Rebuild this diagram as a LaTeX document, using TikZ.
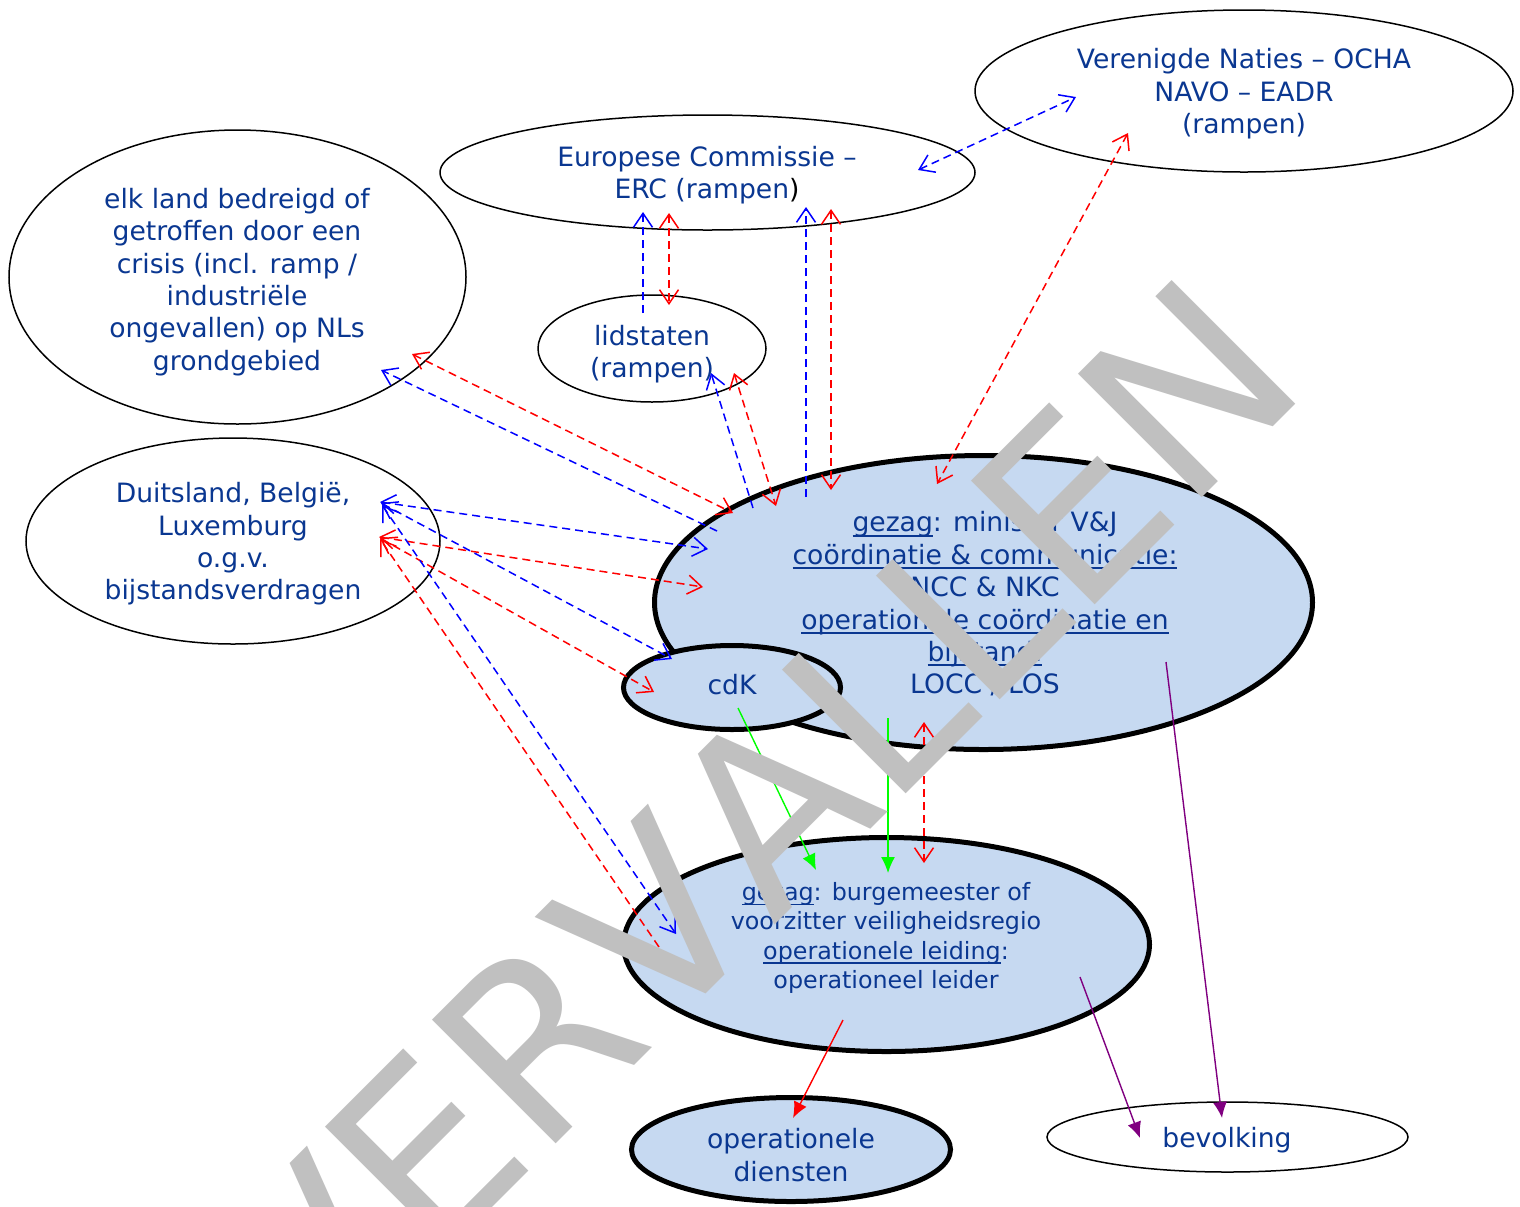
\documentclass[tikz,border=0pt]{standalone}
\usepackage{fontspec}
\setmainfont{DejaVu Sans}
\newfontfamily\wmfont{DejaVu Sans}[Kerning=Off]
\usetikzlibrary{shapes.geometric,arrows.meta}
\definecolor{txtblue}{RGB}{10,55,145}
\definecolor{fillblue}{RGB}{198,217,241}
\definecolor{wmgrey}{RGB}{192,192,192}
\definecolor{pur}{RGB}{128,0,128}
\definecolor{grn}{RGB}{0,255,0}
\newsavebox\ulbox
\newcommand\myul[1]{\sbox\ulbox{#1}\rlap{\rule[-2.4pt]{\wd\ulbox}{0.9pt}}\usebox\ulbox}
\begin{document}
\begin{tikzpicture}[x=0.5pt,y=-0.5pt,
  thinell/.style={ellipse,draw=black,line width=0.75pt,fill=white,inner sep=0pt},
  thickell/.style={ellipse,draw=black,line width=2.5pt,fill=fillblue,inner sep=0pt},
  txt/.style={text=txtblue,align=center,inner sep=0pt,font=\fontsize{13.3}{16.2}\selectfont},
  smalltxt/.style={txt,font=\fontsize{11.9}{14.65}\selectfont},
  bd/.style={draw=blue,line width=0.75pt,dash pattern=on 4pt off 2.5pt,>={Straight Barb[length=7pt,width=9.5pt]}},
  rd/.style={draw=red,line width=0.75pt,dash pattern=on 4pt off 2.5pt,>={Straight Barb[length=7pt,width=9.5pt]}},
  solidarr/.style={line width=0.7pt,>={Latex[length=8pt,width=7pt]}},
  watermark/.style={anchor=base west,rotate=45,inner sep=0pt,outer sep=0pt,text=wmgrey,font=\wmfont\fontsize{120}{140}\selectfont}
]
\fill[white] (0,0) rectangle (1520,1206);
\useasboundingbox (0,0) rectangle (1520,1206);

% ellipses
\node[thinell,minimum width=228.5pt,minimum height=147pt] (A) at (237.5,277) {};
\node[thinell,minimum width=207pt,minimum height=103pt] (B) at (233,541) {};
\node[thinell,minimum width=267.5pt,minimum height=57.5pt] (EC) at (707.5,172.5) {};
\node[thinell,minimum width=269pt,minimum height=81pt] (VN) at (1244,91) {};
\node[thinell,minimum width=114pt,minimum height=53.5pt] (LID) at (652,348.5) {};
\node[thickell,minimum width=329pt,minimum height=147pt] (C) at (983.5,602.5) {};
\node[thickell,minimum width=108.5pt,minimum height=42pt] (CDK) at (732,687.5) {};
\node[thickell,minimum width=263pt,minimum height=107pt] (R) at (886.5,944.5) {};
\node[thickell,minimum width=159.5pt,minimum height=52pt] (OPS) at (791,1149.5) {};
\node[thinell,minimum width=180.5pt,minimum height=35pt] (BEV) at (1227.5,1137) {};

% texts
\node[txt] (A-t) at (237,282) {elk land bedreigd of\\getroffen door een\\crisis (incl. ramp /\\industriële\\ongevallen) op NLs\\grondgebied};
\node[txt] (B-t) at (233,544) {Duitsland, België,\\Luxemburg\\o.g.v.\\bijstandsverdragen};
\node[txt] (EC-t) at (707,175) {Europese Commissie --\\ERC (rampen\textcolor{black}{)}};
\node[txt] (VN-t) at (1244,94) {Verenigde Naties -- OCHA\\NAVO -- EADR\\(rampen)};
\node[txt] (LID-t) at (652,354) {lidstaten\\(rampen)};
\node[txt] (C-t) at (985,604) {\myul{gezag}: minister V\&J\\\myul{coördinatie \& communicatie:}\\NCC \& NKC\\\myul{operationele coördinatie en}\\\myul{bijstand:}\\LOCC / LOS};
\node[txt] (CDK-t) at (732,685) {cdK};
\node[smalltxt] (R-t) at (886,938) {\myul{gezag}: burgemeester of\\voorzitter veiligheidsregio\\\myul{operationele leiding}:\\operationeel leider};
\node[txt] (OPS-t) at (791,1155) {operationele\\diensten};
\node[txt] (BEV-t) at (1227,1140) {bevolking};

% connector end points
\coordinate (b1s) at (643,313);  \coordinate (b1e) at (643,212);
\coordinate (r1s) at (669,213);  \coordinate (r1e) at (669,305);
\coordinate (b2s) at (806,497);  \coordinate (b2e) at (806,207);
\coordinate (r2s) at (831,209);  \coordinate (r2e) at (831,490);
\coordinate (b3s) at (918,170);  \coordinate (b3e) at (1076,97);
\coordinate (r3s) at (1128,133); \coordinate (r3e) at (937,484);
\coordinate (b4s) at (753,508);  \coordinate (b4e) at (711,373);
\coordinate (r4s) at (734,373);  \coordinate (r4e) at (776,506);
\coordinate (b5s) at (717,531);  \coordinate (b5e) at (381,370);
\coordinate (r5s) at (412,354);  \coordinate (r5e) at (733,513);
\coordinate (b6s) at (380,502);  \coordinate (b6e) at (708,549);
\coordinate (r6s) at (379,537);  \coordinate (r6e) at (703,587);
\coordinate (b7s) at (381,503);  \coordinate (b7e) at (672,659);
\coordinate (r7s) at (380,538);  \coordinate (r7e) at (654,692);
\coordinate (b8s) at (382,505);  \coordinate (b8e) at (676,934);
\coordinate (r8s) at (659,947);  \coordinate (r8e) at (380,539);
\coordinate (r9s) at (924,722);  \coordinate (r9e) at (924,863);
\coordinate (g1s) at (738,708);  \coordinate (g1e) at (816,870);
\coordinate (g2s) at (888,718);  \coordinate (g2e) at (888,873);
\coordinate (rss) at (843,1020); \coordinate (rse) at (793,1118);
\coordinate (p1s) at (1166,662); \coordinate (p1e) at (1222,1118);
\coordinate (p2s) at (1080,977); \coordinate (p2e) at (1140,1138);

% dashed connectors
\draw[bd,->]  (b1s) -- (b1e);
\draw[rd,<->] (r1s) -- (r1e);
\draw[bd,->]  (b2s) -- (b2e);
\draw[rd,<->] (r2s) -- (r2e);
\draw[bd,<->] (b3s) -- (b3e);
\draw[rd,<->] (r3s) -- (r3e);
\draw[bd,->]  (b4s) -- (b4e);
\draw[rd,<->] (r4s) -- (r4e);
\draw[bd,->]  (b5s) -- (b5e);
\draw[rd,<->] (r5s) -- (r5e);
\draw[bd,<->] (b6s) -- (b6e);
\draw[rd,<->] (r6s) -- (r6e);
\draw[bd,<->] (b7s) -- (b7e);
\draw[rd,<->] (r7s) -- (r7e);
\draw[bd,<->] (b8s) -- (b8e);
\draw[rd,->]  (r8s) -- (r8e);
\draw[rd,<->] (r9s) -- (r9e);

% solid connectors
\draw[solidarr,draw=grn,fill=grn,->] (g1s) -- (g1e);
\draw[solidarr,draw=grn,fill=grn,->] (g2s) -- (g2e);
\draw[solidarr,draw=red,fill=red,->] (rss) -- (rse);
\draw[solidarr,draw=pur,fill=pur,->] (p1s) -- (p1e);
\draw[solidarr,draw=pur,fill=pur,->] (p2s) -- (p2e);

% watermark
\node[watermark] (wm) at (316,1384) {VERVALLEN};
\end{tikzpicture}
\end{document}
